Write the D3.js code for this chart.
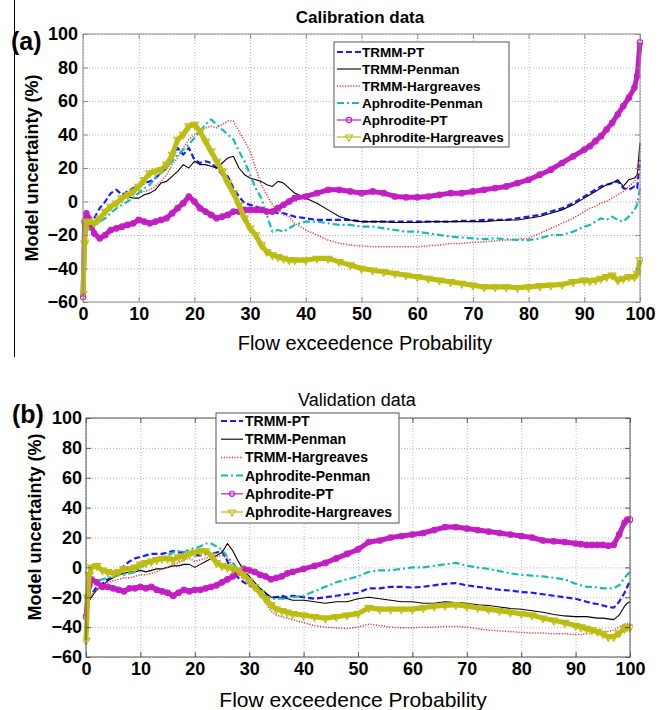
<!DOCTYPE html>
<html><head><meta charset="utf-8">
<script src="https://cdn.jsdelivr.net/npm/d3@7"></script>
<style>body{margin:0;background:#fff;} svg{display:block;font-family:"Liberation Sans",Arial,sans-serif;}</style>
</head><body><svg id="c" width="664" height="710"></svg>
<script>
// ---------- data ----------
const xGrid = [0,0.3,0.6,1,2,3,4,5,6,7,8,9,10,
  11,12,13,14,15,16,17,18,19,20,
  21,22,23,24,25,26,27,28,29,30,
  31,32,33,34,35,36,37,38,
  40,42,44,46,48,50,52,54,56,58,
  60,62,64,66,68,70,72,74,76,78,
  80,82,84,86,88,90,
  91,92,93,94,95,96,97,98,99,
  99.5,100];
const xTicks = [0,10,20,30,40,50,60,70,80,90,100];
const yTicks = [-60,-40,-20,0,20,40,60,80,100];
const seriesNames = ["TRMM-PT","TRMM-Penman","TRMM-Hargreaves","Aphrodite-Penman","Aphrodite-PT","Aphrodite-Hargreaves"];

// Calibration data
const calTrmmPt = [-30,-20,-17,-15,-10,-4,0,5,7,4,6,8,9,
  11,12,14,17,20,26,32,28,32,25,
  23,24,23,20,16,15,8,3,-1,-2,
  -3,-4,-5,-6,-7,-7,-8,-9,
  -10,-11,-11,-11,-11,-12,-12,-12,-12,-12,
  -12,-12,-12,-12,-11.5,-11.5,-11,-11,-11,-10,
  -9,-8,-6,-4,-1,3,
  5,7,9,10,11,12,8,7,9,
  8,25];
const calTrmmPenman = [-25,-18,-16,-15,-12,-9,-6,-3,0,2,3,2,2,
  4,5,7,11,12,15,18,22,20,24,
  22,22,21,20,23,26,27,20,16,14,
  13,12,10,9,12,11,8,5,
  2,-1,-5,-9,-11,-12,-12,-12,-12.5,-12.5,
  -12.5,-12,-12,-12,-12,-12,-12,-11.5,-11,-11,
  -10,-9,-7,-5,-2,2,
  4,6,8,10,11,13,9,13,14,
  16,35];
const calTrmmHarg = [-28,-20,-18,-16,-12,-9,-5,-2,0,2,3,4,5,
  6,7,9,12,16,22,26,32,37,40,
  42,44,45,44,46,48,48,42,36,30,
  20,10,4,-2,-5,-8,-9,-13,
  -17,-20,-23,-25,-26,-26.5,-27,-27,-27,-27,
  -27,-26.5,-26,-25,-25,-24.5,-24,-23.5,-23,-22.5,
  -22,-19,-16,-13,-10,-6,
  -4,-3,-1,0,2,4,6,9,12,
  15,30];
const calAphPenman = [-25,-20,-18,-17,-15,-12,-10,-7,-4,-2,0,2,5,
  8,10,14,17,20,24,28,31,34,38,
  42,46,49,46,43,40,37,30,24,16,
  8,2,-8,-18,-17,-18,-16,-14,
  -12,-12,-13,-14,-14,-15,-15,-16,-17,-18,
  -18,-19,-20,-21,-21.5,-22,-22.5,-22,-22.5,-23,
  -23,-22,-20,-20,-18,-15,
  -14,-12,-10,-11,-9,-11,-12,-9,-5,
  -2,8];
const calAphPt = [-57,-12,-7,-10,-19,-22,-20,-17,-16,-15,-14,-13,-11,
  -12,-13,-12,-11,-10,-7,-4,-1,3,0,
  -4,-6,-8,-10,-9,-8,-6,-6,-5,-5,
  -5,-5,-6,-6,-4,-2,0,2,
  3,5,7,7,6,5,6,5,3,2.5,
  2.5,3,4,5,5,6,7,8,9,11,
  13,16,19,23,27,31,
  33,36,39,43,47,52,57,62,68,
  75,95];
const calAphHarg = [-55,-25,-12,-12,-13,-10,-6,-3,-1,2,4,6,9,
  13,17,18,19,22,28,37,40,45,46,
  42,36,30,24,18,11,5,-2,-10,-16,
  -20,-26,-30,-32,-33,-34,-35,-35,
  -35,-34,-34,-36,-38,-40,-41,-42,-43,-44,
  -45,-46,-47,-48,-49,-50,-51,-51,-51,-51.5,
  -51,-50.5,-50,-49.5,-48,-47,
  -47.5,-47,-46,-45,-44,-47,-46,-45,-45,
  -43,-35];

// Validation data
const valTrmmPt = [-40,-30,-22,-18,-13,-11,-8,-6,-4,1,4,6,7,
  8,9,9,9,10,11,10,10,9,8,
  8,9,9,10,11,4,-3,-7,-10,-12,
  -13,-15,-18,-20,-20,-19,-20,-19,
  -20,-21,-20,-19,-18,-17,-14,-14,-13,-13,
  -13.5,-13,-12,-11,-10.5,-12,-13,-14,-15,-15.5,
  -16.5,-17,-18,-19,-20,-21,
  -22,-23,-24,-24.5,-25.5,-26.5,-27,-23,-17,
  -13,-9];
const valTrmmPenman = [-38,-28,-22,-20,-15,-12,-9,-7,-5,-4,-3,-3,-2,
  -3,-2,-1,-1,0,1,1,2,2,0,
  2,4,6,8,10,16,11,4,-2,-6,
  -10,-14,-17,-20,-20,-20,-21,-22,
  -22,-23,-24,-23,-23,-21,-20,-21,-22,-23,
  -23,-24,-24,-23,-23.5,-24,-25,-25.5,-26.5,-27.5,
  -28,-29,-30,-31.5,-32.5,-33,
  -33,-33,-33.5,-34,-34,-34.5,-35,-32,-26,
  -24,-23];
const valTrmmHarg = [-35,-25,-20,-18,-15,-12,-10,-9,-8,-7,-7,-6,-5,
  -5,-4,-3,-1,0,2,3,5,6,4,
  5,6,8,7,8,6,1,-4,-9,-12,
  -15,-18,-24,-29,-32,-33,-34,-35,
  -37,-39,-40,-40.5,-41,-40,-38,-39,-40,-40.5,
  -40.5,-40,-40,-39.5,-39.5,-40,-41,-42,-42.5,-43,
  -43.5,-44,-44,-44.5,-44.5,-45,
  -45,-44.5,-44,-43.5,-43,-43,-42,-40,-38,
  -37.5,-38];
const valAphPenman = [-35,-20,-14,-11,-9,-8,-7,-6,-5,-5,-4,-3,0,
  2,3,5,6,8,10,11,10,12,13,
  14,16,16,14,12,7,3,-2,-6,-9,
  -12,-15,-19,-21,-21,-21,-21,-20,
  -19,-16,-13,-10,-8,-6,-3,-2,-2,-1,
  0,0,1,2,3,1,0,-1,-2.5,-4,
  -5,-5.5,-6,-7,-8,-11,
  -12,-13,-13,-13.5,-14,-14,-14,-12,-7,
  -5,-3];
const valAphPt = [-33,-20,-12,-8,-10,-13,-13,-14,-15,-16,-14,-14,-13,
  -14,-13,-15,-16,-17,-19,-17,-15,-16,-15,
  -15,-14,-13,-12,-10,-8,-6,-3,-1,-2,
  -3,-5,-6,-8,-7,-6,-4,-3,
  -1,1,3,6,9,12,17,18,20,21,
  22,23,25,27,27,26,25,24,23,22,
  21,20,18,17.5,17,16,
  15.5,15,15,15,15,14.5,15,22,30,
  32,32];
const valAphHarg = [-49,-20,-5,0,1,-2,-3,-4,-3,-1,-1,0,2,
  3,4,5,6,6,5,7,7,9,10,
  11,11,8,3,1,0,-1,-2,-5,-9,
  -13,-17,-21,-25,-28,-29,-30,-31,
  -32,-33,-34,-33,-32,-31,-27,-28,-28,-28,
  -28,-27,-26,-25.5,-25,-26,-27,-28,-29,-30,
  -31,-32,-34,-35.5,-37,-39,
  -40,-41,-42,-43,-44.5,-46.5,-46.5,-44,-41,
  -40,-40];

// ---------- styles ----------
const styles = {
  "TRMM-PT":            {color:"#1a1aff", width:2.2, dash:"6,3"},
  "TRMM-Penman":        {color:"#000000", width:1.1, dash:null},
  "TRMM-Hargreaves":    {color:"#f03a3a", width:1.5, dash:"1.2,1.5"},
  "Aphrodite-Penman":   {color:"#1cb8b8", width:2.2, dash:"7,3,2,3"},
  "Aphrodite-PT":       {color:"#c21fc2", width:5, dash:null, marker:"circle"},
  "Aphrodite-Hargreaves":{color:"#bcbc12", width:5, dash:null, marker:"tri"}
};

const svg = d3.select("#c");

// decorative left border line of the top figure
svg.append("line").attr("x1",14.5).attr("x2",14.5).attr("y1",0).attr("y2",357)
  .attr("stroke","#000").attr("stroke-width",1);

function panel(o){
  const x = d3.scaleLinear().domain([0,100]).range([o.L,o.R]);
  const y = d3.scaleLinear().domain([-60,100]).range([o.B,o.T]);
  const g = svg.append("g");

  // grid
  const gx = g.append("g").attr("transform",`translate(0,${o.B})`)
    .call(d3.axisBottom(x).tickValues(xTicks).tickSize(-(o.B-o.T)).tickFormat(""));
  const gy = g.append("g").attr("transform",`translate(${o.L},0)`)
    .call(d3.axisLeft(y).tickValues(yTicks).tickSize(-(o.R-o.L)).tickFormat(""));
  [gx,gy].forEach(a=>{a.select(".domain").remove();
    a.selectAll("line").attr("stroke","#b4b4b4").attr("stroke-dasharray","1,2").attr("stroke-width",1);});

  // clip
  const cid = "clip"+o.id;
  svg.append("clipPath").attr("id",cid).append("rect")
    .attr("x",o.L-3).attr("y",o.T-3).attr("width",o.R-o.L+6).attr("height",o.B-o.T+6);
  const lg = g.append("g").attr("clip-path",`url(#${cid})`);
  const line = d3.line().x((d,i)=>x(xGrid[i])).y(d=>y(d));
  o.data.forEach((vals,k)=>{
    const s = styles[seriesNames[k]];
    lg.append("path").attr("d",line(vals)).attr("fill","none")
      .attr("stroke",s.color).attr("stroke-width",s.width)
      .attr("stroke-dasharray",s.dash).attr("stroke-linejoin","round");
    if(s.marker==="circle"){
      lg.selectAll(null).data(vals).enter().append("circle")
        .attr("cx",(d,i)=>x(xGrid[i])).attr("cy",d=>y(d)).attr("r",2.8)
        .attr("fill","none").attr("stroke",s.color).attr("stroke-width",1.1);
    } else if(s.marker==="tri"){
      const sym = d3.symbol().type(d3.symbolTriangle).size(26);
      lg.selectAll(null).data(vals).enter().append("path")
        .attr("d",sym).attr("transform",(d,i)=>`translate(${x(xGrid[i])},${y(d)}) rotate(180)`)
        .attr("fill","none").attr("stroke",s.color).attr("stroke-width",1.1);
    }
  });

  // axes
  const ax = g.append("g").attr("transform",`translate(0,${o.B})`)
    .call(d3.axisBottom(x).tickValues(xTicks).tickSizeInner(-5).tickSizeOuter(0).tickPadding(5));
  const ay = g.append("g").attr("transform",`translate(${o.L},0)`)
    .call(d3.axisLeft(y).tickValues(yTicks).tickSizeInner(-5).tickSizeOuter(0).tickPadding(o.yPad));
  const at = g.append("g").attr("transform",`translate(0,${o.T})`)
    .call(d3.axisTop(x).tickValues(xTicks).tickSizeInner(-5).tickSizeOuter(0).tickFormat(""));
  const ar = g.append("g").attr("transform",`translate(${o.R},0)`)
    .call(d3.axisRight(y).tickValues(yTicks).tickSizeInner(-5).tickSizeOuter(0).tickFormat(""));
  [ax,ay,at,ar].forEach(a=>{
    a.select(".domain").remove();
    a.selectAll("line").attr("stroke",o.frame);
    a.selectAll("text").attr("font-size",18).attr("font-weight","bold").attr("fill","#000")
      .attr("font-family","'Liberation Sans',Arial,sans-serif");
  });
  g.append("rect").attr("x",o.L).attr("y",o.T).attr("width",o.R-o.L).attr("height",o.B-o.T)
    .attr("fill","none").attr("stroke",o.frame).attr("stroke-width",1);

  // titles
  g.append("text").attr("x",o.titleX).attr("y",o.titleY).attr("text-anchor","middle")
    .attr("font-size",o.titleSize).attr("font-weight",o.titleWeight).text(o.title);
  g.append("text").attr("x",o.xlabX).attr("y",o.xlabY).attr("text-anchor","middle")
    .attr("font-size",o.xlabSize).text("Flow exceedence Probability");
  g.append("text").attr("transform",`translate(${o.ylabX},${o.ylabY}) rotate(-90)`)
    .attr("text-anchor","middle").attr("font-size",18).attr("font-weight","bold")
    .text("Model uncertainty (%)");
  g.append("text").attr("x",o.tagX).attr("y",o.tagY).attr("font-size",25).attr("font-weight","bold").text(o.tag);

  // legend
  const L = o.leg;
  g.append("rect").attr("x",L.x).attr("y",L.y).attr("width",L.w).attr("height",L.h)
    .attr("fill","#fff").attr("stroke","#555").attr("stroke-width",1);
  seriesNames.forEach((n,k)=>{
    const s = styles[n];
    const cy = L.y0 + k*L.dy;
    const lw = s.marker ? 1.2 : Math.min(s.width,2);
    g.append("line").attr("x1",L.sx1).attr("x2",L.sx2).attr("y1",cy).attr("y2",cy)
      .attr("stroke",s.color).attr("stroke-width",lw).attr("stroke-dasharray",s.dash);
    const mx = (L.sx1+L.sx2)/2;
    if(s.marker==="circle"){
      g.append("circle").attr("cx",mx).attr("cy",cy).attr("r",2.6).attr("fill","none")
        .attr("stroke",s.color).attr("stroke-width",1.1);
    } else if(s.marker==="tri"){
      g.append("path").attr("d",d3.symbol().type(d3.symbolTriangle).size(22))
        .attr("transform",`translate(${mx},${cy}) rotate(180)`).attr("fill","none")
        .attr("stroke",s.color).attr("stroke-width",1.1);
    }
    g.append("text").attr("x",L.tx).attr("y",cy).attr("dy","0.36em")
      .attr("font-size",L.fs).attr("font-weight","bold").text(n);
  });
}

panel({id:"a", L:83, R:640, T:34, B:302, frame:"#8c8c8c", yPad:5,
  data:[calTrmmPt,calTrmmPenman,calTrmmHarg,calAphPenman,calAphPt,calAphHarg],
  title:"Calibration data", titleX:360, titleY:23, titleSize:17, titleWeight:"bold",
  xlabX:365, xlabY:350, xlabSize:20, ylabX:38, ylabY:168, tag:"(a)", tagX:11, tagY:50,
  leg:{x:334, y:42, w:175, h:105, y0:52, dy:17, sx1:337, sx2:361, tx:362, fs:13.5}});

panel({id:"b", L:86, R:630, T:418, B:657, frame:"#555", yPad:4,
  data:[valTrmmPt,valTrmmPenman,valTrmmHarg,valAphPenman,valAphPt,valAphHarg],
  title:"Validation data", titleX:357, titleY:406, titleSize:18, titleWeight:"normal",
  xlabX:353, xlabY:707, xlabSize:21, ylabX:41, ylabY:527, tag:"(b)", tagX:12, tagY:423,
  leg:{x:216, y:413, w:183, h:110, y0:421, dy:18.2, sx1:221, sx2:243, tx:245, fs:14}});
</script></body></html>
